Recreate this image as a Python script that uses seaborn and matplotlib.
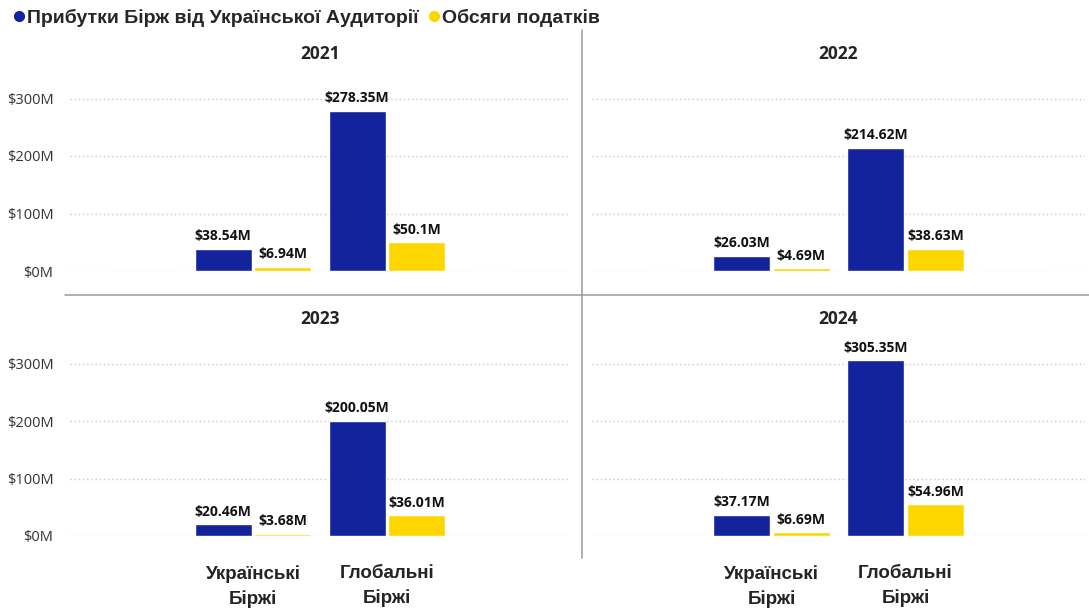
import numpy as np
import pandas as pd
import seaborn as sns
import matplotlib.pyplot as plt
from matplotlib.lines import Line2D

# дані з графіка
years = ["2021", "2022", "2023", "2024"]
categories = ["Українські\nБіржі", "Глобальні\nБіржі"]
series = ["Прибутки Бірж від Української Аудиторії", "Обсяги податків"]
profits_ua = [38.54, 26.03, 20.46, 37.17]
profits_global = [278.35, 214.62, 200.05, 305.35]
taxes_ua = [6.94, 4.69, 3.68, 6.69]
taxes_global = [50.1, 38.63, 36.01, 54.96]
y_ticks = [0, 100, 200, 300]
y_tick_labels = ["$0M", "$100M", "$200M", "$300M"]

colors = ["#13239D", "#FDD600"]

rows = []
for i, year in enumerate(years):
    rows.append((year, categories[0], series[0], profits_ua[i]))
    rows.append((year, categories[0], series[1], taxes_ua[i]))
    rows.append((year, categories[1], series[0], profits_global[i]))
    rows.append((year, categories[1], series[1], taxes_global[i]))
df = pd.DataFrame(rows, columns=["year", "category", "series", "value"])

sns.set_style("white")
plt.rcParams["font.family"] = ["Open Sans", "DejaVu Sans"]

fig = plt.figure(figsize=(10.89, 6.08), dpi=100)
W, H = 1089, 608

# позиції панелей у пікселях: (ліво, право, нуль по y)
panels = [(70, 570, 271), (592, 1085, 271), (70, 570, 536), (592, 1085, 536)]
px_per_m = 172.5 / 300
ytop = 330
spacing = 134

for k, year in enumerate(years):
    left, right, y0 = panels[k]
    height_px = ytop * px_per_m
    ax = fig.add_axes([left / W, 1 - y0 / H, (right - left) / W, height_px / H])
    sub = df[df["year"] == year]
    sns.barplot(data=sub, x="category", y="value", hue="series", order=categories,
                hue_order=series, palette=colors, width=0.89, gap=0.04,
                saturation=1, legend=False, ax=ax)
    half = (right - left) / spacing / 2
    ax.set_xlim(0.5 - half, 0.5 + half)
    ax.set_ylim(0, ytop)
    ax.set_yticks(y_ticks)
    for t in y_ticks:
        ax.axhline(t, color="#c8c8c8", lw=1, ls=(0, (1, 2)), zorder=0)
    for spine in ax.spines.values():
        spine.set_visible(False)
    ax.set_xlabel("")
    ax.set_ylabel("")
    ax.set_title(year, fontsize=12.5, fontweight="bold", color="#252423", pad=16)
    for cont in ax.containers:
        ax.bar_label(cont, labels=[f"${v.get_height():g}M" for v in cont],
                     padding=4, fontsize=10, fontweight="bold", color="#111111")
    if k % 2 == 0:
        ax.set_yticklabels(y_tick_labels, fontsize=10.5, color="#333333")
        ax.tick_params(axis="y", length=0, pad=12)
    else:
        ax.set_yticklabels([])
        ax.tick_params(axis="y", length=0)
    if k >= 2:
        ax.set_xticks([0, 1])
        ax.set_xticklabels(categories, fontsize=13.5, fontweight="bold", color="#252423",
                           family=["Liberation Sans", "DejaVu Sans"], linespacing=1.55)
        ax.tick_params(axis="x", length=0, pad=21)
    else:
        ax.set_xticklabels([])
        ax.tick_params(axis="x", length=0)

# розділові лінії
fig.add_artist(Line2D([582 / W, 582 / W], [1 - 30 / H, 1 - 558 / H], color="#9a9a9a", lw=1.1))
fig.add_artist(Line2D([65 / W, 1.0], [1 - 295 / H, 1 - 295 / H], color="#9a9a9a", lw=1.1))

# легенда
handles = [Line2D([], [], marker="o", ls="", color=c, markersize=7) for c in colors]
fig.legend(handles, series, loc="upper left", bbox_to_anchor=(-0.007, 1.014), ncol=2,
           frameon=False, handletextpad=0.0, columnspacing=0.3, handlelength=0.9,
           prop={"family": ["Liberation Sans", "DejaVu Sans"], "weight": "bold", "size": 14})

fig.savefig("out.png", dpi=100)
